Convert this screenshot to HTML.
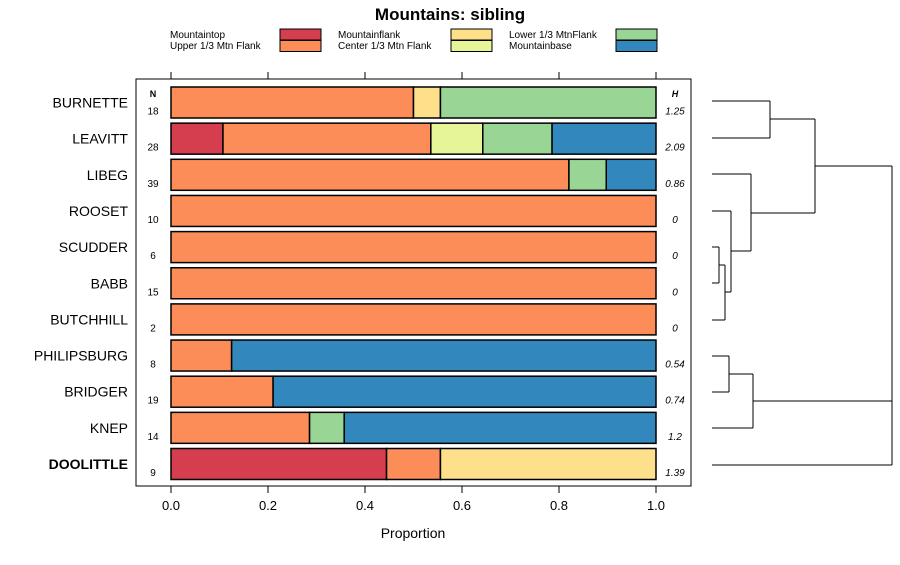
<!DOCTYPE html>
<html><head><meta charset="utf-8"><style>
body{margin:0;background:#fff}
svg{font-family:"Liberation Sans",sans-serif}
</style></head><body>
<svg id="c" width="900" height="560">
<text x="450" y="20" text-anchor="middle" font-size="17" font-weight="bold">Mountains: sibling</text>
<g id="legend"></g>
<rect x="136" y="79" width="555" height="407" fill="none" stroke="#000" stroke-width="1"/>
<text x="153" y="97" text-anchor="middle" font-size="9" font-weight="bold">N</text>
<text x="675" y="97" text-anchor="middle" font-size="9" font-weight="bold" font-style="italic">H</text>
<g id="bars"></g><g id="axes"></g><g id="dendro" stroke="#000" fill="none"></g>
<text x="413" y="538" text-anchor="middle" font-size="14">Proportion</text>
</svg>
<script>
const categories=["Mountaintop","Upper 1/3 Mtn Flank","Mountainflank","Center 1/3 Mtn Flank","Lower 1/3 MtnFlank","Mountainbase"];
const colors=["#D53E4F","#FC8D59","#FEE08B","#E6F598","#99D594","#3288BD"];
const sites=["BURNETTE","LEAVITT","LIBEG","ROOSET","SCUDDER","BABB","BUTCHHILL","PHILIPSBURG","BRIDGER","KNEP","DOOLITTLE"];
const counts=[[0,9,1,0,8,0],[3,12,0,3,4,6],[0,32,0,0,3,4],[0,10,0,0,0,0],[0,6,0,0,0,0],[0,15,0,0,0,0],[0,2,0,0,0,0],[0,1,0,0,0,7],[0,4,0,0,0,15],[0,4,0,0,1,9],[4,1,4,0,0,0]];
const nValues=[18,28,39,10,6,15,2,8,19,14,9];
const hValues=["1.25","2.09","0.86","0","0","0","0","0.54","0.74","1.2","1.39"];
const ticks=[0,0.2,0.4,0.6,0.8,1.0];
const tickLabels=["0.0","0.2","0.4","0.6","0.8","1.0"];
const NS="http://www.w3.org/2000/svg";
function mk(t,a,p){const e=document.createElementNS(NS,t);for(const k in a)e.setAttribute(k,a[k]);p.appendChild(e);return e;}
const xs=v=>171+v*485;
const ys=i=>102.5+i*36.15;
const bars=document.getElementById('bars');
sites.forEach((s,i)=>{
 const tot=counts[i].reduce((a,b)=>a+b,0);let cum=0;const y=ys(i);
 counts[i].forEach((c,j)=>{if(!c)return;const p=c/tot;
  const r=mk('rect',{x:xs(cum),y:y-15.5,width:xs(cum+p)-xs(cum),height:31,fill:colors[j],stroke:'#000','stroke-width':1.5},bars);
  
  
  cum+=p;});
 const l=mk('text',{x:128,y:y+5,'text-anchor':'end','font-size':14,'font-weight':i==10?'bold':'normal'},bars);l.textContent=s;
 
 
 const n=mk('text',{x:153,y:y+12,'text-anchor':'middle','font-size':10},bars);n.textContent=nValues[i];
 
 
 const h=mk('text',{x:675,y:y+12,'text-anchor':'middle','font-size':10,'font-style':'italic'},bars);h.textContent=hValues[i];
 
 
});
const ax=document.getElementById('axes');
ticks.forEach((t,i)=>{
 mk('line',{x1:xs(t),x2:xs(t),y1:72,y2:79,stroke:'#000'},ax);
 mk('line',{x1:xs(t),x2:xs(t),y1:486,y2:493,stroke:'#000'},ax);
 const tx=mk('text',{x:xs(t),y:510,'text-anchor':'middle','font-size':13},ax);tx.textContent=tickLabels[i];
 
 
});
const lg=document.getElementById('legend');
const lx=[[170,280],[338,451],[509,616]];
categories.forEach((c,k)=>{const col=Math.floor(k/2),row=k%2;
 const t=mk('text',{x:lx[col][0],y:38+row*11,'font-size':10},lg);t.textContent=c;
 
 
 const r=mk('rect',{x:lx[col][1],y:29+row*11.5,width:41,height:11,fill:colors[k],stroke:'#000'},lg);
 
 
});
const d=document.getElementById('dendro');
const segs=[[712,101,770,101],[712,138,770,138],[770,101,770,138],[770,119,815,119],
[712,247,719,247],[712,283,719,283],[719,247,719,283],[719,265,725,265],[712,320,725,320],[725,265,725,320],
[725,292,731,292],[712,211,731,211],[731,211,731,292],[731,251,751,251],[712,174,751,174],[751,174,751,251],
[751,213,815,213],[815,119,815,213],[815,166,892,166],
[712,356,729,356],[712,392,729,392],[729,356,729,392],[729,374,753,374],[712,428,753,428],[753,374,753,428],
[753,401,892,401],[712,465,892,465],[892,166,892,465]];
segs.forEach(s=>mk('line',{x1:s[0],y1:s[1],x2:s[2],y2:s[3]},d));


</script>
</body></html>
